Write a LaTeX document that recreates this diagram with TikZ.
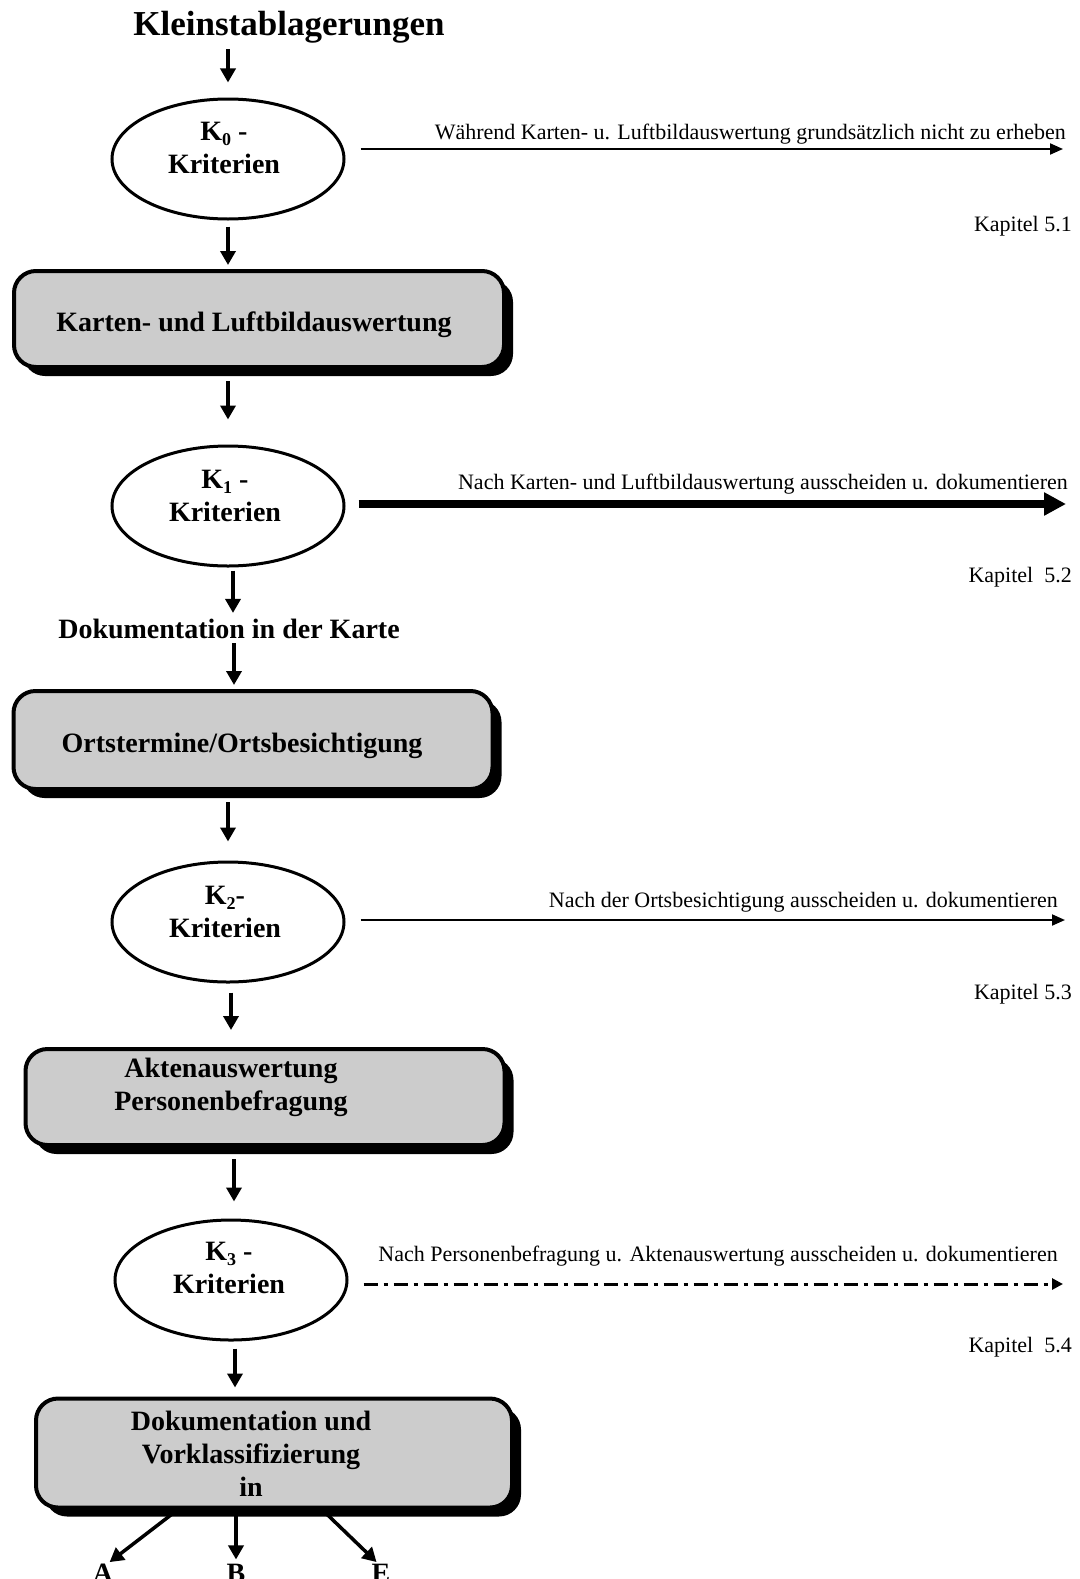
\documentclass[tikz,border=0pt]{standalone}
\usepackage{fontspec}
\setmainfont{Liberation Serif}
\usetikzlibrary{arrows.meta,shapes.geometric,shadows}
\newcommand{\Ksub}[1]{K\raisebox{-0.35ex}{\fontsize{18}{18}\selectfont #1}}
\begin{document}
\begin{tikzpicture}[x=1pt,y=-1pt,
  flowbox/.style={draw, line width=4pt, fill=black!20, rounded corners=22pt, inner sep=0pt,
     general shadow={fill=black, shadow xshift=9pt, shadow yshift=-9pt}},
  crit/.style={draw, ellipse, line width=3pt, minimum width=232pt, minimum height=120pt, inner sep=0pt},
  boldtxt/.style={font=\fontsize{28}{33}\selectfont\bfseries, align=center, inner sep=0pt},
  smalltxt/.style={font=\fontsize{22}{24}\selectfont, inner sep=0pt},
  outtxt/.style={font=\fontsize{28}{30}\selectfont\bfseries, inner sep=0pt, anchor=base},
  varr/.style={line width=3.5pt, -{Triangle[length=14pt,width=15pt]}},
  harr/.style={line width=2pt, -{Triangle[length=13pt,width=11pt]}},
  thickarr/.style={line width=8pt, -{Triangle[length=22pt,width=22pt]}},
  dotarr/.style={line width=3pt, dash pattern=on 14pt off 6pt on 4pt off 6pt, -{Triangle[length=11pt,width=11pt]}},
]
\clip (0,0) rectangle (1079,1579);
\fill[white] (0,0) rectangle (1079,1579);

% title
\node[font=\fontsize{35}{38}\selectfont\bfseries, inner sep=0pt] (title) at (289,27) {Kleinstablagerungen};

% K0
\node[crit] (k0) at (228,159) {};
\node[boldtxt] (k0t) at (224,148) {\Ksub{0} -\\Kriterien};
\coordinate (e0) at (1063,149);
\draw[harr, shorten <=15pt] (k0.east |- e0) -- (e0);
\node[smalltxt, anchor=base east] (l0) at (1066,139) {Während Karten- u. Luftbildauswertung grundsätzlich nicht zu erheben};
\node[smalltxt, anchor=base east] (c0) at (1072,231) {Kapitel 5.1};

% box 1
\node[flowbox, minimum width=490pt, minimum height=96pt] (b1) at (259,319) {};
\node[boldtxt] (b1t) at (254,325) {Karten- und Luftbildauswertung};

% K1
\node[crit] (k1) at (228,506) {};
\node[boldtxt] (k1t) at (225,496) {\Ksub{1} -\\Kriterien};
\coordinate (e1) at (1066,504);
\draw[thickarr, shorten <=13pt] (k1.east |- e1) -- (e1);
\node[smalltxt, anchor=base east] (l1) at (1068,489) {Nach Karten- und Luftbildauswertung ausscheiden u. dokumentieren};
\node[smalltxt, anchor=base east] (c1) at (1072,582) {Kapitel\ \ 5.2};

% Dokumentation
\node[boldtxt] (dok) at (229,629) {Dokumentation in der Karte};

% box 2
\node[flowbox, minimum width=479pt, minimum height=98pt] (b2) at (253,740) {};
\node[boldtxt] (b2t) at (242,746) {Ortstermine/Ortsbesichtigung};

% K2
\node[crit] (k2) at (228,922) {};
\node[boldtxt] (k2t) at (225,912) {\Ksub{2}-\\Kriterien};
\coordinate (e2) at (1065,920);
\draw[harr, shorten <=15pt] (k2.east |- e2) -- (e2);
\node[smalltxt, anchor=base east] (l2) at (1058,907) {Nach der Ortsbesichtigung ausscheiden u. dokumentieren};
\node[smalltxt, anchor=base east] (c2) at (1072,999) {Kapitel 5.3};

% box 3
\node[flowbox, minimum width=479pt, minimum height=96pt] (b3) at (265,1097) {};
\node[boldtxt] (b3t) at (231,1087) {Aktenauswertung\\Personenbefragung};

% K3
\node[crit] (k3) at (231,1280) {};
\node[boldtxt] (k3t) at (229,1268) {\Ksub{3} -\\Kriterien};
\coordinate (e3) at (1063,1284);
\draw[dotarr, shorten <=15pt] (k3.east |- e3) -- (e3);
\node[smalltxt, anchor=base east] (l3) at (1058,1261) {Nach Personenbefragung u. Aktenauswertung ausscheiden u. dokumentieren};
\node[smalltxt, anchor=base east] (c3) at (1072,1352) {Kapitel\ \ 5.4};

% box 4
\node[flowbox, minimum width=476pt, minimum height=109pt] (b4) at (274,1453) {};
\node[boldtxt] (b4t) at (251,1454) {Dokumentation und\\Vorklassifizierung\\in};

% outputs
\node[outtxt] (oa) at (103,1582) {A};
\node[outtxt] (ob) at (236,1582) {B};
\node[outtxt] (oe) at (381,1582) {E};

% vertical connectors
\draw[varr, shorten <=6pt, shorten >=15pt] (title.south -| k0.north) -- (k0.north);
\draw[varr, shorten <=6pt, shorten >=4pt] (k0.south) -- (k0.south |- b1.north);
\draw[varr, shorten <=12pt, shorten >=25pt] (b1.south -| k1.north) -- (k1.north);
\draw[varr, shorten <=3pt, shorten >=6pt] ([xshift=5pt]k1.south) -- ([xshift=5pt]k1.south |- dok.north);
\draw[varr, shorten <=4pt, shorten >=4pt] ([xshift=5pt]dok.south) -- ([xshift=5pt]dok.south |- b2.north);
\draw[varr, shorten <=11pt, shorten >=19pt] (b2.south -| k2.north) -- (k2.north);
\draw[varr, shorten <=9pt, shorten >=17pt] ([xshift=3pt]k2.south) -- ([xshift=3pt]k2.south |- b3.north);
\draw[varr, shorten <=12pt, shorten >=17pt] ([xshift=3pt]b3.south -| k3.north) -- ([xshift=3pt]k3.north);
\draw[varr, shorten <=7pt, shorten >=9pt] ([xshift=4pt]k3.south) -- ([xshift=4pt]k3.south |- b4.north);
\draw[varr, shorten >=2pt] ([xshift=-96pt]b4.south) -- ([xshift=5pt]oa.north);
\draw[varr, shorten >=4pt] ([xshift=-38pt]b4.south) -- (ob.north);
\draw[varr, shorten >=2pt] ([xshift=48pt]b4.south) -- ([xshift=-3pt]oe.north);
\end{tikzpicture}
\end{document}
